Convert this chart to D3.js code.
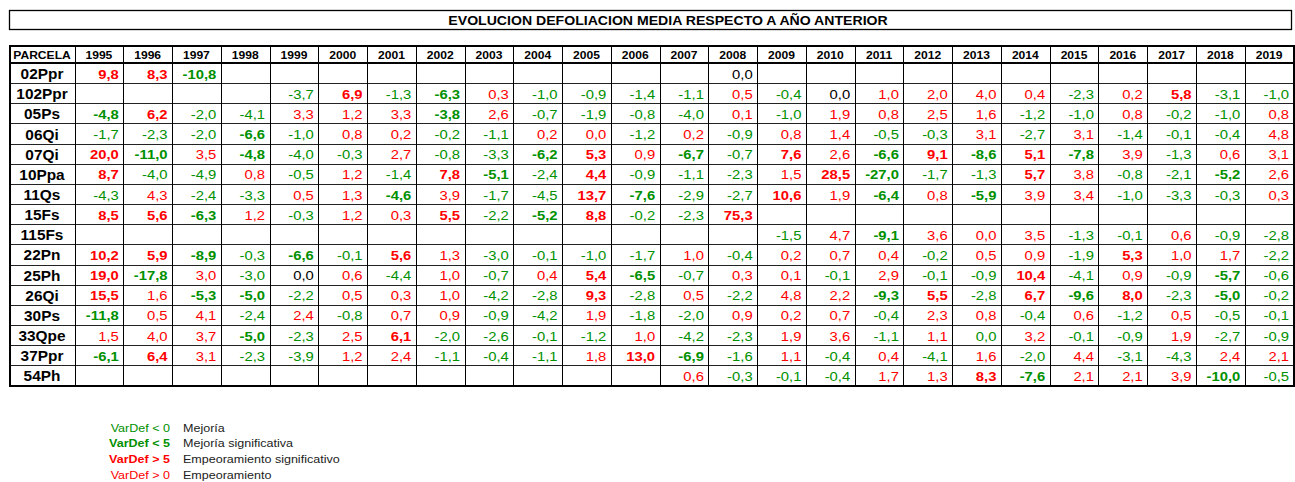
<!DOCTYPE html>
<html>
<head>
<meta charset="utf-8">
<script src="https://cdn.jsdelivr.net/npm/d3@7"></script>
<style>
  body { margin: 0; background: #fff; }
  svg { display: block; font-family: "Liberation Sans", Arial, sans-serif; }
</style>
</head>
<body>
<svg id="chart"></svg>
<script>
// Evolución defoliación media respecto a año anterior — table per parcela x year

const TITLE = 'EVOLUCION DEFOLIACION MEDIA RESPECTO A AÑO ANTERIOR';
const YEARS = d3.range(1995, 2020).map(String);
const PARCELAS = ['02Ppr', '102Ppr', '05Ps', '06Qi', '07Qi', '10Ppa', '11Qs', '15Fs',
                  '115Fs', '22Pn', '25Ph', '26Qi', '30Ps', '33Qpe', '37Ppr', '54Ph'];

const _ = null;
// values rounded to one decimal; ±0.04 marks a "0,0" that is printed red / green
const r02Ppr  = [9.8, 8.3, -10.8, _, _, _, _, _, _, _, _, _, _, 0.0, _, _, _, _, _, _, _, _, _, _, _];
const r102Ppr = [_, _, _, _, -3.7, 6.9, -1.3, -6.3, 0.3, -1.0, -0.9, -1.4, -1.1, 0.5, -0.4, 0.0, 1.0, 2.0, 4.0, 0.4, -2.3, 0.2, 5.8, -3.1, -1.0];
const r05Ps   = [-4.8, 6.2, -2.0, -4.1, 3.3, 1.2, 3.3, -3.8, 2.6, -0.7, -1.9, -0.8, -4.0, 0.1, -1.0, 1.9, 0.8, 2.5, 1.6, -1.2, -1.0, 0.8, -0.2, -1.0, 0.8];
const r06Qi   = [-1.7, -2.3, -2.0, -6.6, -1.0, 0.8, 0.2, -0.2, -1.1, 0.2, 0.04, -1.2, 0.2, -0.9, 0.8, 1.4, -0.5, -0.3, 3.1, -2.7, 3.1, -1.4, -0.1, -0.4, 4.8];
const r07Qi   = [20.0, -11.0, 3.5, -4.8, -4.0, -0.3, 2.7, -0.8, -3.3, -6.2, 5.3, 0.9, -6.7, -0.7, 7.6, 2.6, -6.6, 9.1, -8.6, 5.1, -7.8, 3.9, -1.3, 0.6, 3.1];
const r10Ppa  = [8.7, -4.0, -4.9, 0.8, -0.5, 1.2, -1.4, 7.8, -5.1, -2.4, 4.4, -0.9, -1.1, -2.3, 1.5, 28.5, -27.0, -1.7, -1.3, 5.7, 3.8, -0.8, -2.1, -5.2, 2.6];
const r11Qs   = [-4.3, 4.3, -2.4, -3.3, 0.5, 1.3, -4.6, 3.9, -1.7, -4.5, 13.7, -7.6, -2.9, -2.7, 10.6, 1.9, -6.4, 0.8, -5.9, 3.9, 3.4, -1.0, -3.3, -0.3, 0.3];
const r15Fs   = [8.5, 5.6, -6.3, 1.2, -0.3, 1.2, 0.3, 5.5, -2.2, -5.2, 8.8, -0.2, -2.3, 75.3, _, _, _, _, _, _, _, _, _, _, _];
const r115Fs  = [_, _, _, _, _, _, _, _, _, _, _, _, _, _, -1.5, 4.7, -9.1, 3.6, 0.04, 3.5, -1.3, -0.1, 0.6, -0.9, -2.8];
const r22Pn   = [10.2, 5.9, -8.9, -0.3, -6.6, -0.1, 5.6, 1.3, -3.0, -0.1, -1.0, -1.7, 1.0, -0.4, 0.2, 0.7, 0.4, -0.2, 0.5, 0.9, -1.9, 5.3, 1.0, 1.7, -2.2];
const r25Ph   = [19.0, -17.8, 3.0, -3.0, 0.0, 0.6, -4.4, 1.0, -0.7, 0.4, 5.4, -6.5, -0.7, 0.3, 0.1, -0.1, 2.9, -0.1, -0.9, 10.4, -4.1, 0.9, -0.9, -5.7, -0.6];
const r26Qi   = [15.5, 1.6, -5.3, -5.0, -2.2, 0.5, 0.3, 1.0, -4.2, -2.8, 9.3, -2.8, 0.5, -2.2, 4.8, 2.2, -9.3, 5.5, -2.8, 6.7, -9.6, 8.0, -2.3, -5.0, -0.2];
const r30Ps   = [-11.8, 0.5, 4.1, -2.4, 2.4, -0.8, 0.7, 0.9, -0.9, -4.2, 1.9, -1.8, -2.0, 0.9, 0.2, 0.7, -0.4, 2.3, 0.8, -0.4, 0.6, -1.2, 0.5, -0.5, -0.1];
const r33Qpe  = [1.5, 4.0, 3.7, -5.0, -2.3, 2.5, 6.1, -2.0, -2.6, -0.1, -1.2, 1.0, -4.2, -2.3, 1.9, 3.6, -1.1, 1.1, -0.04, 3.2, -0.1, -0.9, 1.9, -2.7, -0.9];
const r37Ppr  = [-6.1, 6.4, 3.1, -2.3, -3.9, 1.2, 2.4, -1.1, -0.4, -1.1, 1.8, 13.0, -6.9, -1.6, 1.1, -0.4, 0.4, -4.1, 1.6, -2.0, 4.4, -3.1, -4.3, 2.4, 2.1];
const r54Ph   = [_, _, _, _, _, _, _, _, _, _, _, _, 0.6, -0.3, -0.1, -0.4, 1.7, 1.3, 8.3, -7.6, 2.1, 2.1, 3.9, -10.0, -0.5];
const VALUES = [r02Ppr, r102Ppr, r05Ps, r06Qi, r07Qi, r10Ppa, r11Qs, r15Fs,
                r115Fs, r22Pn, r25Ph, r26Qi, r30Ps, r33Qpe, r37Ppr, r54Ph];

// significant cells below |5| that are still printed bold
const EXTRA_SIG = ['05Ps:1995', '05Ps:2002', '07Qi:1998', '10Ppa:2005', '11Qs:2001'];

const LEGEND = [
    { label: 'VarDef < 0', text: 'Mejoría',                      color: '#009000', bold: false },
    { label: 'VarDef < 5', text: 'Mejoría significativa',        color: '#009000', bold: true },
    { label: 'VarDef > 5', text: 'Empeoramiento significativo', color: '#ff0000', bold: true },
    { label: 'VarDef > 0', text: 'Empeoramiento',               color: '#ff0000', bold: false },
];

const W = 1295, H = 482;
const svg = d3.select('#chart').attr('width', W).attr('height', H);

const LEFT = 9.5, FIRST_COL = 74.5, RIGHT = 1293.5;
const HEAD_TOP = 46, HEAD_BOT = 63, BOTTOM = 385.5;

const x = d3.scaleBand().domain(YEARS).range([FIRST_COL, RIGHT]);
const y = d3.scaleBand().domain(PARCELAS).range([HEAD_BOT, BOTTOM]);

const GREEN = '#009000', RED = '#ff0000';
const colorOf = v => v > 0 ? RED : v < 0 ? GREEN : '#000';
const fmt = v => (Math.round(Math.abs(v) * 10) / 10 === 0 ? '0.0' : v.toFixed(1)).replace('.', ',');

// the original export is stretched horizontally, so text gets a scaleX
const at = (px, py, sx) => `translate(${px},${py}) scale(${sx},1)`;

// ── Title box ─────────────────────────────────────────────────────────────
svg.append('rect')
    .attr('x', LEFT).attr('y', 10.5).attr('width', 1291.5 - LEFT).attr('height', 19)
    .attr('fill', 'none').attr('stroke', '#000').attr('stroke-width', 1.3);
svg.append('text')
    .attr('transform', at(668, 24.5, 1.085))
    .attr('text-anchor', 'middle').attr('font-size', '13px').attr('font-weight', 'bold')
    .text(TITLE);

// ── Cells ─────────────────────────────────────────────────────────────────
const cells = [];
PARCELAS.forEach((p, i) => {
    YEARS.forEach((yr, j) => {
        const v = VALUES[i][j];
        if (v == null) return;
        cells.push({ p, yr, v, bold: Math.abs(v) >= 5 || EXTRA_SIG.includes(`${p}:${yr}`) });
    });
});

svg.append('g').selectAll('text')
    .data(cells)
    .join('text')
    .attr('transform', d => at(x(d.yr) + x.bandwidth() - 4.5, y(d.p) + y.bandwidth() / 2 + 5.5, 1.14))
    .attr('text-anchor', 'end')
    .attr('font-size', '13px')
    .attr('font-weight', d => d.bold ? 'bold' : 'normal')
    .attr('fill', d => colorOf(d.v))
    .text(d => fmt(d.v));

// Row labels
svg.append('g').selectAll('text')
    .data(PARCELAS)
    .join('text')
    .attr('transform', d => at((LEFT + FIRST_COL) / 2, y(d) + y.bandwidth() / 2 + 6, 1.1))
    .attr('text-anchor', 'middle')
    .attr('font-size', '14px').attr('font-weight', 'bold')
    .text(d => d);

// Header
const head = svg.append('g').attr('font-size', '11px').attr('font-weight', 'bold');
head.append('text')
    .attr('transform', at((LEFT + FIRST_COL) / 2, HEAD_BOT - 4.5, 1.1))
    .attr('text-anchor', 'middle').text('PARCELA');
head.selectAll('.yr')
    .data(YEARS)
    .join('text')
    .attr('class', 'yr')
    .attr('transform', d => at(x(d) + x.bandwidth() / 2, HEAD_BOT - 4.5, 1.1))
    .attr('text-anchor', 'middle').text(d => d);

// ── Grid lines ────────────────────────────────────────────────────────────
const grid = svg.append('g').attr('shape-rendering', 'crispEdges');
grid.selectAll('.hl')
    .data(PARCELAS.slice(1))
    .join('line')
    .attr('x1', LEFT).attr('x2', RIGHT)
    .attr('y1', d => Math.round(y(d)) + 0.5).attr('y2', d => Math.round(y(d)) + 0.5)
    .attr('stroke', '#222').attr('stroke-width', 1);
grid.selectAll('.vl')
    .data(YEARS)
    .join('line')
    .attr('x1', d => Math.round(x(d)) + 0.5).attr('x2', d => Math.round(x(d)) + 0.5)
    .attr('y1', HEAD_TOP).attr('y2', BOTTOM)
    .attr('stroke', '#000').attr('stroke-width', d => d === YEARS[0] ? 1.5 : 1);
grid.append('line')
    .attr('x1', LEFT).attr('x2', RIGHT).attr('y1', HEAD_BOT).attr('y2', HEAD_BOT)
    .attr('stroke', '#000').attr('stroke-width', 2);
grid.append('rect')
    .attr('x', LEFT).attr('y', HEAD_TOP).attr('width', RIGHT - LEFT).attr('height', BOTTOM - HEAD_TOP)
    .attr('fill', 'none').attr('stroke', '#000').attr('stroke-width', 2);

// ── Legend ────────────────────────────────────────────────────────────────
const leg = svg.append('g').attr('font-size', '11px');
LEGEND.forEach((l, i) => {
    const ly = 431.5 + i * 15.8;
    leg.append('text').attr('transform', at(170, ly, 1.14)).attr('text-anchor', 'end')
        .attr('fill', l.color).attr('font-weight', l.bold ? 'bold' : 'normal').text(l.label);
    leg.append('text').attr('transform', at(183, ly, 1.14)).attr('fill', '#222').text(l.text);
});
</script>
</body>
</html>
